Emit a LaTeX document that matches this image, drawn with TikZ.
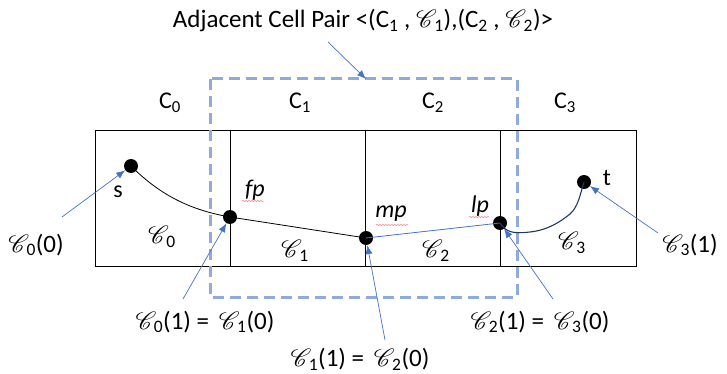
\documentclass[tikz,border=0pt]{standalone}
\usepackage{fontspec}
\setmainfont{Carlito}
\usepackage{mathrsfs}
\usetikzlibrary{arrows.meta,decorations.pathmorphing}
\definecolor{dashblue}{HTML}{8FAADC}
\definecolor{ptrblue}{HTML}{4472C4}
\definecolor{navy}{HTML}{1F3864}
\newcommand{\SC}[1]{$\mathscr{C}$\kern-2.5pt\textsubscript{#1}}
\tikzset{
  cell/.style={draw=black, line width=0.9pt},
  dot/.style={circle, fill=black, inner sep=0pt, minimum size=14pt},
  lbl/.style={font=\fontsize{24}{26}\selectfont, inner sep=0pt},
  big/.style={font=\fontsize{25}{27}\selectfont, inner sep=0pt},
  ptr/.style={draw=ptrblue, line width=0.7pt, -{Latex[length=9pt,width=7pt]}},
  pair/.style={draw=dashblue, line width=3pt, dash pattern=on 11pt off 6pt},
  squig/.style={draw=red!60, line width=0.4pt, decorate, decoration={snake, amplitude=0.6pt, segment length=3pt}}
}
\begin{document}
\begin{tikzpicture}[x=1pt,y=-1pt]
\useasboundingbox (0,0) rectangle (727,374);
% cells
\draw[cell] (95,130) rectangle (636,266);
\draw[cell] (230,130) -- (230,266);
\draw[cell] (365,130) -- (365,266);
\draw[cell] (500,130) -- (500,266);
% cell labels
\node[lbl] (c0) at (170,103) {C\textsubscript{0}};
\node[lbl] (c1) at (300,103) {C\textsubscript{1}};
\node[lbl] (c2) at (433,103) {C\textsubscript{2}};
\node[lbl] (c3) at (565,103) {C\textsubscript{3}};
% dashed pair box
\draw[pair] (210,79) rectangle (517,297);
\coordinate (boxtop) at (366,79);
% points
\node[dot] (s) at (131,166) {};
\node[dot] (fp) at (230,217) {};
\node[dot] (mp) at (366,238) {};
\node[dot] (lp) at (500,223) {};
\node[dot] (t) at (584,182) {};
% path
\draw[black, line width=0.8pt] (s.center) .. controls (160,195) and (190,210) .. (fp.center);
\draw[black, line width=0.8pt] (fp.center) -- (mp.center);
\draw[ptrblue, line width=0.8pt] (mp.center) -- (lp.center);
\draw[navy, line width=1.1pt] (lp.center) .. controls (506,232) and (512,234) .. (530,232)
  .. controls (548,230) and (560,222) .. (570,214)
  .. controls (578,207) and (580,195) .. (t.center);
% point labels
\node[lbl] (ls) at (118,192) {s};
\node[lbl] (lt) at (607,178) {t};
\node[lbl] (lfp) at (255,190) {\itshape fp};
\node[lbl] (lmp) at (391,214) {\itshape mp};
\node[lbl] (llp) at (480,206) {\itshape lp};
\draw[squig] (242,201) -- (264,201);
\draw[squig] (376,225) -- (408,225);
\draw[squig] (469,217) -- (489,217);
% trajectory labels in cells
\node[big] (t0) at (162,237) {\SC{0}};
\node[big] (t1) at (295,251) {\SC{1}};
\node[big] (t2) at (436,251) {\SC{2}};
\node[big] (t3) at (572,243) {\SC{3}};
% outer labels
\node[big] (e0) at (36,245) {\SC{0}(0)};
\node[big] (e1) at (205,322) {\SC{0}(1) = \,\SC{1}(0)};
\node[big] (e2) at (360,359) {\SC{1}(1) = \,\SC{2}(0)};
\node[big] (e3) at (540,322) {\SC{2}(1) = \,\SC{3}(0)};
\node[big] (e4) at (690,245) {\SC{3}(1)};
\node[big] (title) at (363,21) {Adjacent Cell Pair <(C\textsubscript{1} , \SC{1}),(C\textsubscript{2} , \SC{2})>};
% pointers
\coordinate (a0) at (62,217);
\coordinate (a1) at (183,299);
\coordinate (a2) at (385,340);
\coordinate (a3) at (553,299);
\coordinate (a4) at (658,233);
\coordinate (at) at (328,42);
\draw[ptr] (a0) -- (s);
\draw[ptr] (a1) -- (fp);
\draw[ptr] (a2) -- (mp);
\draw[ptr] (a3) -- (lp);
\draw[ptr] (a4) -- (t);
\draw[ptr] (at) -- (boxtop);
\end{tikzpicture}
\end{document}
